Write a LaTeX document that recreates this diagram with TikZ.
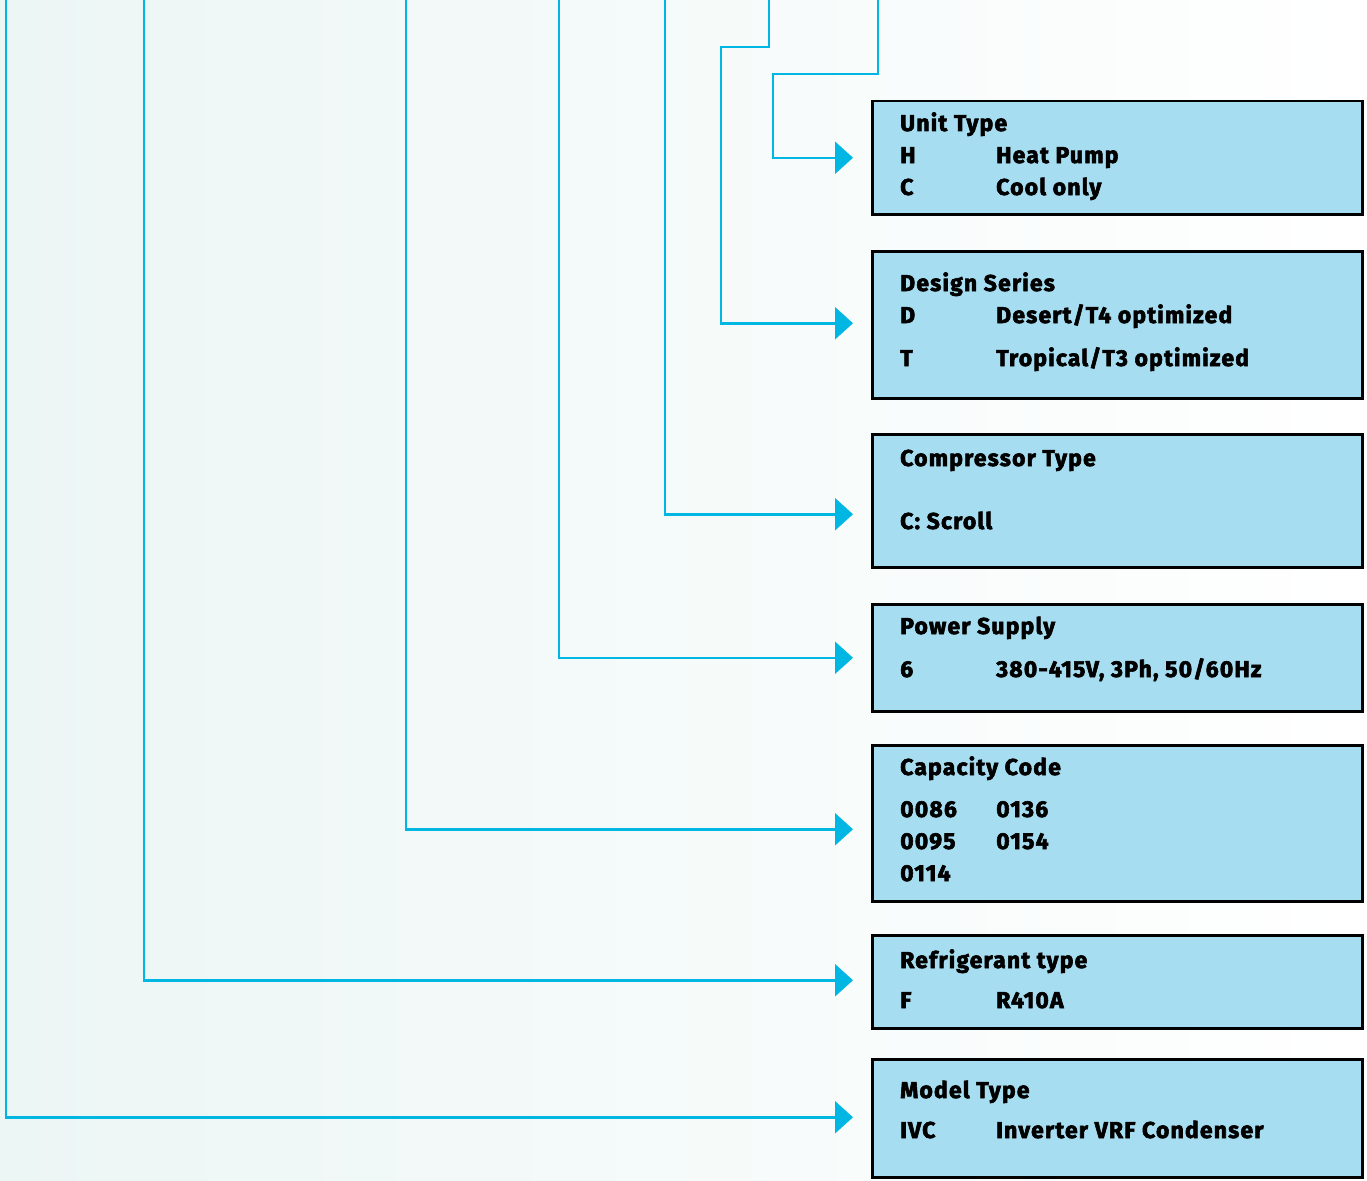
\documentclass[tikz,border=0pt]{standalone}
\usepackage{fontspec}
\setmainfont{Fira Sans}[BoldFeatures={FakeBold=2.5,LetterSpace=5}]
\usetikzlibrary{arrows.meta,calc}
\definecolor{cyanline}{RGB}{0,183,228}
\definecolor{boxfill}{RGB}{166,221,240}
\definecolor{bgleft}{RGB}{236,246,245}
\begin{document}
\begin{tikzpicture}[x=1pt,y=-1pt,
  infobox/.style={draw=black,line width=2.5pt,fill=boxfill,anchor=north west,minimum width=490pt,inner sep=0pt},
  lbl/.style={anchor=base west,inner sep=0pt,font=\fontsize{23}{26}\selectfont\bfseries},
  conn/.style={draw=cyanline,line width=2.5pt,-{Triangle[length=18pt,width=32pt]},shorten >=18pt}]
\useasboundingbox (0,0) rectangle (1367,1180);
\shade[left color=bgleft,right color=white] (0,0) rectangle (1367,1180);
% boxes
\node[infobox,minimum height=113pt] (unit) at (871,100) {};
\node[infobox,minimum height=147pt] (design) at (871,250) {};
\node[infobox,minimum height=133pt] (comp) at (871,433) {};
\node[infobox,minimum height=107pt] (power) at (871,603) {};
\node[infobox,minimum height=156pt] (cap) at (871,744) {};
\node[infobox,minimum height=93pt] (refr) at (871,934) {};
\node[infobox,minimum height=118pt] (model) at (871,1058) {};
% texts
\node[lbl] (u1) at (900,131) {Unit Type};
\node[lbl] (u2) at (900,163) {H};
\node[lbl] (u3) at (996,163) {Heat Pump};
\node[lbl] (u4) at (900,195) {C};
\node[lbl] (u5) at (996,195) {Cool only};
\node[lbl] (d1) at (900,291) {Design Series};
\node[lbl] (d2) at (900,323) {D};
\node[lbl] (d3) at (996,323) {Desert/T4 optimized};
\node[lbl] (d4) at (900,366) {T};
\node[lbl] (d5) at (996,366) {Tropical/T3 optimized};
\node[lbl] (c1) at (900,466) {Compressor Type};
\node[lbl] (c2) at (900,529) {C: Scroll};
\node[lbl] (p1) at (900,634) {Power Supply};
\node[lbl] (p2) at (900,677) {6};
\node[lbl] (p3) at (996,677) {380-415V, 3Ph, 50/60Hz};
\node[lbl] (k1) at (900,775) {Capacity Code};
\node[lbl] (k2) at (900,817) {0086};
\node[lbl] (k3) at (996,817) {0136};
\node[lbl] (k4) at (900,849) {0095};
\node[lbl] (k5) at (996,849) {0154};
\node[lbl] (k6) at (900,881) {0114};
\node[lbl] (r1) at (900,968) {Refrigerant type};
\node[lbl] (r2) at (900,1008) {F};
\node[lbl] (r3) at (996,1008) {R410A};
\node[lbl] (m1) at (900,1098) {Model Type};
\node[lbl] (m2) at (900,1138) {IVC};
\node[lbl] (m3) at (996,1138) {Inverter VRF Condenser};
% connector starts
\coordinate (tm) at (6,-2);
\coordinate (tr) at (144,-2);
\coordinate (tk) at (406,-2);
\coordinate (tp) at (559,-2);
\coordinate (tc) at (665,-2);
\coordinate (td) at (769,-2);
\coordinate (tu) at (878,-2);
\coordinate (bd) at (721,47);
\coordinate (bu) at (773,74);
% connectors
\draw[conn] (tm) |- ($(model.west)+(0,-1)$);
\draw[conn] (tr) |- ($(refr.west)+(0,-1.5)$);
\draw[conn] (tk) |- ($(cap.west)+(0,6)$);
\draw[conn] (tp) |- (power.west);
\draw[conn] (tc) |- ($(comp.west)+(0,13.5)$);
\draw[conn] (td) |- (bd) |- ($(design.west)+(0,-1.5)$);
\draw[conn] (tu) |- (bu) |- (unit.west);
\end{tikzpicture}
\end{document}
